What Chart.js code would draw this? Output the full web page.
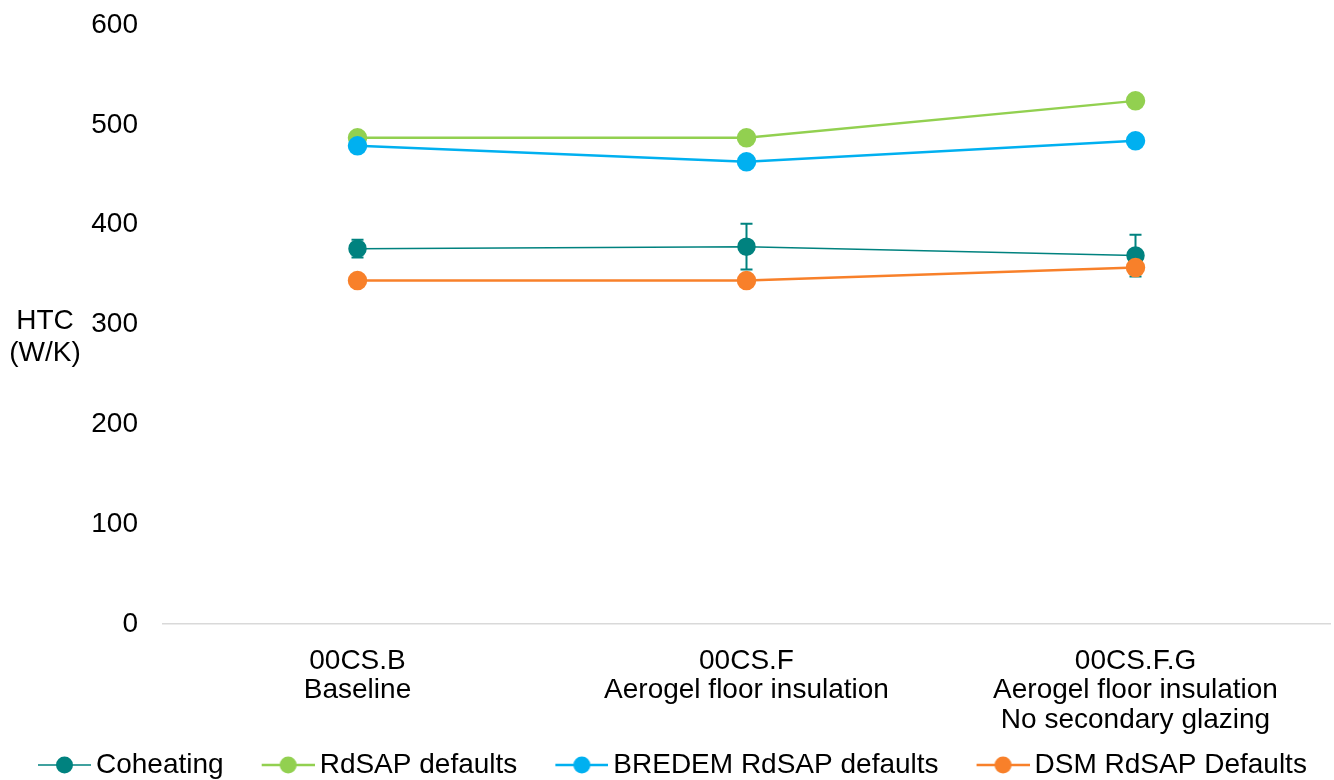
<!DOCTYPE html>
<html>
<head>
<meta charset="utf-8">
<script src="https://cdn.jsdelivr.net/npm/chart.js@4.4.1/dist/chart.umd.min.js"></script>
<style>
  html, body { margin: 0; padding: 0; background: #fff; overflow: hidden; }
  #wrap { width: 1334px; height: 780px; overflow: hidden; position: relative; }
  #htcChart { position: absolute; left: 0; top: 0; }
</style>
</head>
<body>
<div id="wrap"><canvas id="htcChart" width="1334" height="789"></canvas></div>
<script>
const categories = [
  ["00CS.B", "Baseline"],
  ["00CS.F", "Aerogel floor insulation"],
  ["00CS.F.G", "Aerogel floor insulation", "No secondary glazing"]
];
const coheating = [376, 378, 369];
const coheatingErr = [9, 23, 21];
const rdsap = [487, 487, 524];
const bredem = [479, 463, 484];
const dsm = [344, 344, 357];
const yTicks = [0, 100, 200, 300, 400, 500, 600];

const FONT = "'Liberation Sans', Arial, sans-serif";
const FS = 28;

// line-with-dot swatch for the legend; the blank strip on the left
// spaces the items apart
function legendSwatch(color, lw) {
  const c = document.createElement("canvas");
  c.width = 87; c.height = 20;
  const g = c.getContext("2d");
  g.strokeStyle = color;
  g.lineWidth = lw;
  g.beginPath();
  g.moveTo(34, 10); g.lineTo(87, 10);
  g.stroke();
  g.fillStyle = color;
  g.beginPath();
  g.arc(60.5, 10, 8.5, 0, Math.PI * 2);
  g.fill();
  return c;
}

// error bars for the coheating series
const errorBars = {
  id: "errorBars",
  beforeDatasetsDraw(chart) {
    const ctx = chart.ctx;
    const meta = chart.getDatasetMeta(0);
    const y = chart.scales.y;
    ctx.save();
    ctx.strokeStyle = "#00827F";
    ctx.lineWidth = 2;
    meta.data.forEach((pt, i) => {
      const top = y.getPixelForValue(coheating[i] + coheatingErr[i]);
      const bot = y.getPixelForValue(coheating[i] - coheatingErr[i]);
      ctx.beginPath();
      ctx.moveTo(pt.x, top); ctx.lineTo(pt.x, bot);
      ctx.moveTo(pt.x - 6, top); ctx.lineTo(pt.x + 6, top);
      ctx.moveTo(pt.x - 6, bot); ctx.lineTo(pt.x + 6, bot);
      ctx.stroke();
    });
    ctx.restore();
  }
};

// horizontal y axis title
const yTitle = {
  id: "yTitle",
  afterDraw(chart) {
    const ctx = chart.ctx;
    ctx.save();
    ctx.fillStyle = "#000";
    ctx.font = FS + "px " + FONT;
    ctx.textAlign = "center";
    ctx.textBaseline = "middle";
    ctx.fillText("HTC", 45, 321);
    ctx.fillText("(W/K)", 45, 353);
    ctx.restore();
  }
};

const swatches = [
  legendSwatch("#00827F", 1.5),
  legendSwatch("#92D050", 2.5),
  legendSwatch("#00B0F0", 2.5),
  legendSwatch("#F8802A", 2.5)
];

new Chart(document.getElementById("htcChart"), {
  type: "line",
  data: {
    labels: categories,
    datasets: [
      { label: "Coheating", data: coheating, borderColor: "#00827F", backgroundColor: "#00827F", borderWidth: 1.5, order: 3 },
      { label: "RdSAP defaults", data: rdsap, borderColor: "#92D050", backgroundColor: "#92D050", borderWidth: 2.5, order: 2 },
      { label: "BREDEM RdSAP defaults", data: bredem, borderColor: "#00B0F0", backgroundColor: "#00B0F0", borderWidth: 2.5, order: 1 },
      { label: "DSM RdSAP Defaults", data: dsm, borderColor: "#F8802A", backgroundColor: "#F8802A", borderWidth: 2.5, order: 0 }
    ]
  },
  options: {
    responsive: false,
    animation: false,
    layout: { autoPadding: false, padding: { top: 25, right: 4, left: 0, bottom: 0 } },
    elements: {
      point: { radius: 8.5, hoverRadius: 8.5, borderWidth: 0, pointStyle: "circle" },
      line: { tension: 0 }
    },
    scales: {
      x: {
        offset: true,
        afterFit(scale) { scale.height = 114; },
        grid: { display: false, drawTicks: false },
        border: { color: "#D9D9D9", width: 1.5 },
        ticks: {
          color: "#000",
          font: { family: FONT, size: FS, lineHeight: 1.04 },
          padding: 23,
          maxRotation: 0,
          autoSkip: false
        }
      },
      y: {
        min: 0, max: 600,
        afterFit(scale) {
          scale.width = 163;
          scale.paddingTop = 0;
          scale.paddingBottom = 0;
        },
        afterBuildTicks(scale) { scale.ticks = yTicks.map(v => ({ value: v })); },
        grid: { display: false, drawTicks: false },
        border: { display: false },
        ticks: {
          color: "#000",
          font: { family: FONT, size: FS },
          padding: 25
        }
      }
    },
    plugins: {
      tooltip: { enabled: false },
      legend: {
        position: "bottom",
        align: "start",
        labels: {
          usePointStyle: true,
          pointStyleWidth: 69,
          padding: 13,
          color: "#000",
          font: { family: FONT, size: FS },
          generateLabels(chart) {
            return chart.data.datasets.map((ds, i) => ({
              text: ds.label,
              fillStyle: ds.borderColor,
              strokeStyle: ds.borderColor,
              lineWidth: 0,
              pointStyle: swatches[i],
              hidden: false,
              datasetIndex: i,
              fontColor: "#000"
            }));
          }
        }
      }
    }
  },
  plugins: [errorBars, yTitle]
});
</script>
</body>
</html>
